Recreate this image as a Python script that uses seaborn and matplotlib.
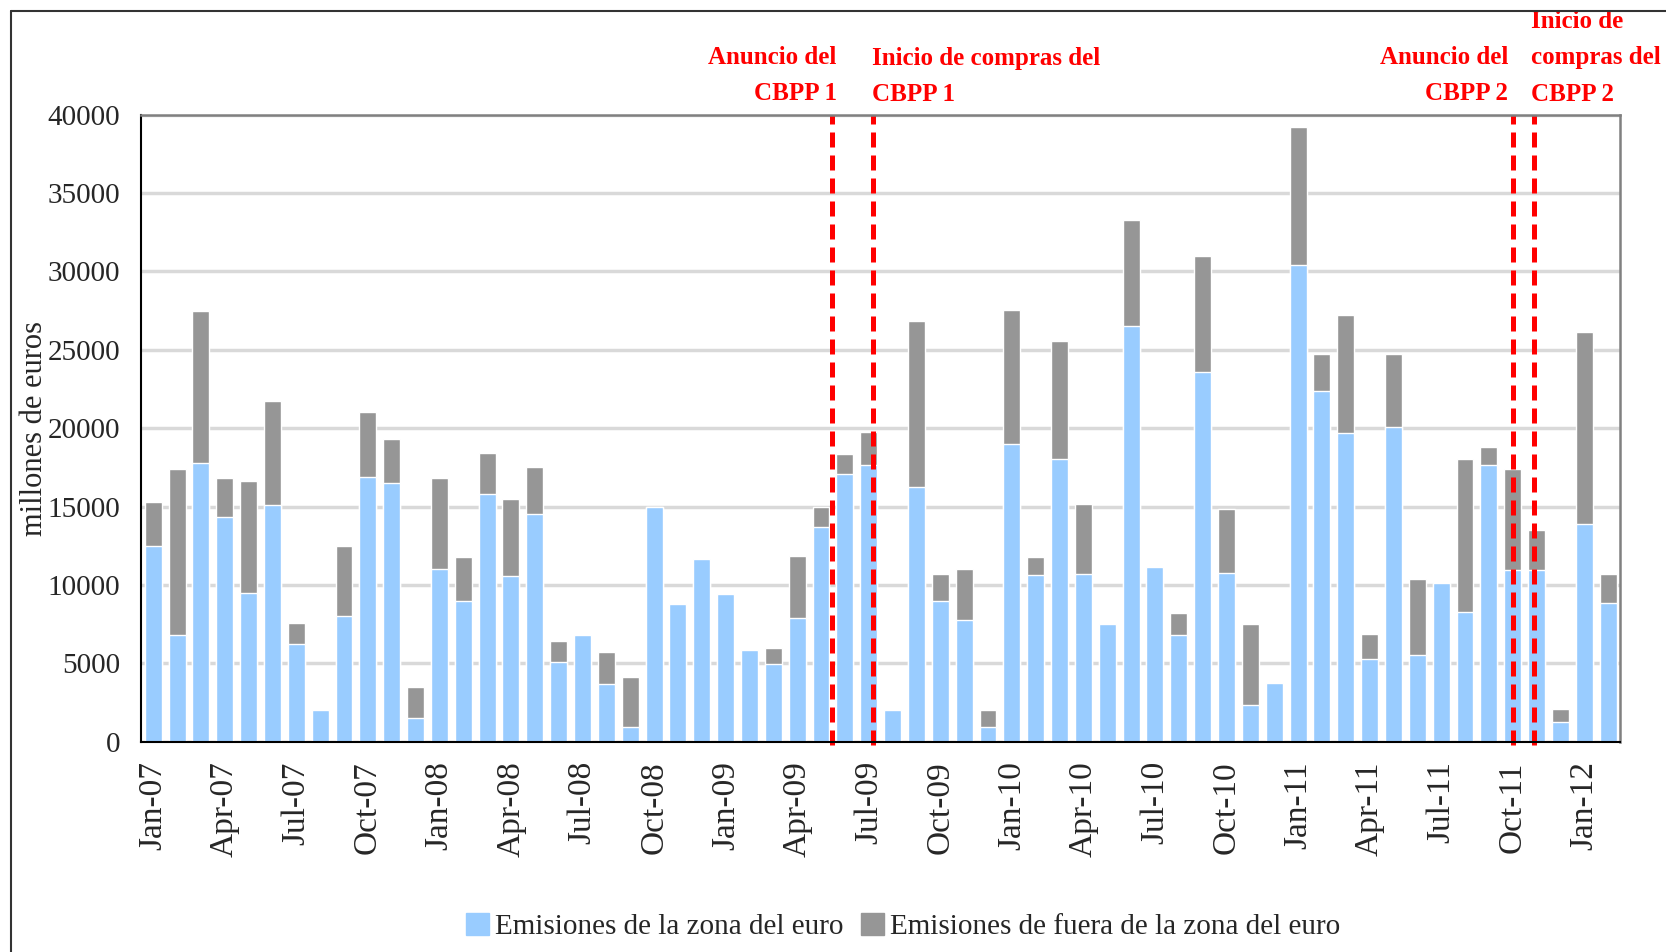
import numpy as np
import pandas as pd
import matplotlib.pyplot as plt
from matplotlib.patches import Patch
from matplotlib.lines import Line2D
import matplotlib.transforms as mtransforms
import seaborn as sns

sns.set_style('white')
plt.rcParams['font.family'] = ['Liberation Serif', 'DejaVu Serif']

#monthly data, Jan-07 .. Feb-12 (millones de euros)
months = list(pd.date_range('2007-01-01', '2012-02-01', freq='MS').strftime('%b-%y'))

euro_zone = [12500, 6800, 17800, 14300, 9500, 15100, 6200, 2000, 8000, 16900, 16500, 1500,
             11000, 9000, 15800, 10600, 14500, 5100, 6800, 3700, 950, 15000, 8800, 11650,
             9400, 5850, 4950, 7900, 13700, 17100, 17650, 2000, 16250, 9000, 7750, 950,
             19000, 10650, 18000, 10700, 7500, 26500, 11150, 6800, 23600, 10750, 2350, 3750,
             30400, 22350, 19700, 5300, 20100, 5500, 10100, 8250, 17650, 10950, 10950, 1250,
             13900, 8850]
non_euro = [2800, 10600, 9700, 2500, 7100, 6600, 1400, 0, 4500, 4100, 2800, 2000,
            5800, 2800, 2600, 4900, 3000, 1300, 0, 2000, 3150, 0, 0, 0,
            0, 0, 1050, 3950, 1300, 1250, 2100, 0, 10600, 1700, 3250, 1050,
            8550, 1100, 7550, 4450, 0, 6800, 0, 1400, 7350, 4100, 5150, 0,
            8800, 2400, 7500, 1600, 4650, 4900, 0, 9750, 1150, 6450, 2550, 850,
            12200, 1850]

#event lines (category positions) and their labels
events = [28.45, 30.2, 57.0, 57.9]
event_labels = ['Anuncio del\nCBPP 1', 'Inicio de compras del\nCBPP 1',
                'Anuncio del\nCBPP 2', 'Inicio de\ncompras del\nCBPP 2']

df = pd.DataFrame({'mes': months, 'euro': euro_zone, 'fuera': non_euro})
df['total'] = df['euro'] + df['fuera']

blue = '#99CCFF'
grey = '#969696'

fig = plt.figure(figsize=(16.66, 9.52), dpi=100)
ax = fig.add_axes([0.0848, 0.2209, 0.8876, 0.6588])

#stacked bars: total in grey, euro zone part drawn over it
sns.barplot(data=df, x='mes', y='total', color=grey, saturation=1, width=0.71, ax=ax)
sns.barplot(data=df, x='mes', y='euro', color=blue, saturation=1, width=0.71, ax=ax)

ax.set_xlim(-0.5, len(months) - 0.5)
ax.set_ylim(0, 40000)
ax.set_yticks(np.arange(0, 40001, 5000))
ax.set_yticklabels([str(v) for v in range(0, 40001, 5000)], fontsize=21)
ax.yaxis.grid(True, color='#d9d9d9', lw=2.5)
ax.set_axisbelow(True)

#ticks between categories, labels centred on the quarter months
ax.set_xticks(np.arange(0, len(months), 3) - 0.5)
ax.set_xticklabels([])
ax.set_xticks(np.arange(0, len(months), 3), minor=True)
ax.set_xticklabels(months[::3], minor=True, rotation=90, fontsize=24)
ax.tick_params(axis='x', which='major', direction='out', length=8, width=1.2, color='black')
ax.tick_params(axis='x', which='minor', length=0, pad=14)
ax.tick_params(axis='y', direction='out', length=6, width=1.2, color='black', pad=9)
ax.set_xlabel('')
ax.set_ylabel('millones de euros', fontsize=22, labelpad=-1)

for side in ['left', 'bottom']:
    ax.spines[side].set_color('black')
    ax.spines[side].set_linewidth(1.5)
for side in ['top', 'right']:
    ax.spines[side].set_color('#808080')
    ax.spines[side].set_linewidth(1.8)

#red dashed event lines
for x in events:
    ax.axvline(x, ymin=-0.006, ymax=1, color='red', lw=3.6, ls=(0, (3, 1.6)), clip_on=False)

trans = mtransforms.blended_transform_factory(ax.transData, fig.transFigure)
txt = dict(color='red', fontweight='bold', fontsize=18, linespacing=1.75, transform=trans)
ax.text(events[0] + 0.2, 0.9205, event_labels[0], ha='right', va='center', multialignment='right', **txt)
ax.text(events[1] - 0.05, 0.9195, event_labels[1], ha='left', va='center', multialignment='left', **txt)
ax.text(events[2] - 0.2, 0.9205, event_labels[2], ha='right', va='center', multialignment='right', **txt)
ax.text(events[3] - 0.15, 0.9395, event_labels[3], ha='left', va='center', multialignment='left', **txt)

#legend
handles = [Patch(color=blue, label='Emisiones de la zona del euro'),
           Patch(color=grey, label='Emisiones de fuera de la zona del euro')]
fig.legend(handles=handles, loc='center', bbox_to_anchor=(0.542, 0.027), ncol=2, frameon=False,
           fontsize=21, handlelength=0.8, handleheight=0.8, handletextpad=0.2, columnspacing=0.6)

#outer chart frame (left and top edges visible)
fig.add_artist(Line2D([0.0064, 0.0064], [0, 0.9889], transform=fig.transFigure, color='#333333', lw=1.5))
fig.add_artist(Line2D([0.0064, 1], [0.9889, 0.9889], transform=fig.transFigure, color='#333333', lw=1.5))

fig.savefig('out.png', dpi=100)
